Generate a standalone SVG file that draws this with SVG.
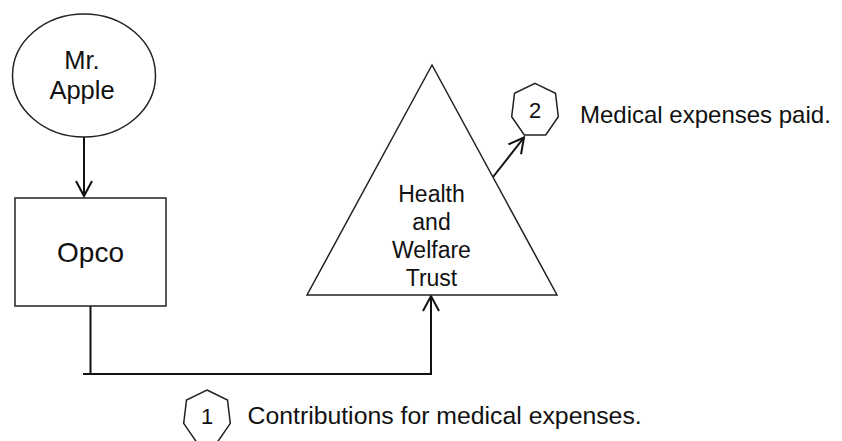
<svg xmlns="http://www.w3.org/2000/svg" width="842" height="441" viewBox="0 0 842 441">
<style>
.shape{fill:#fff;stroke:#222;stroke-width:1.5}
.conn{fill:none;stroke:#111;stroke-width:2}
.t{font-family:"Liberation Sans",Arial,sans-serif;fill:#111;text-anchor:middle}
.l{font-family:"Liberation Sans",Arial,sans-serif;fill:#111}
</style>
<defs>
<marker id="arr" viewBox="0 0 20 20" refX="16" refY="10" markerWidth="20" markerHeight="20" markerUnits="userSpaceOnUse" orient="auto">
<path d="M1,2 L16,10 L1,18" fill="none" stroke="#111" stroke-width="2"/>
</marker>
</defs>
<rect width="842" height="441" fill="#fff"/>
<g id="connectors">
<line class="conn" x1="84" y1="137" x2="84" y2="196" marker-end="url(#arr)"/>
<polyline class="conn" points="90.5,306 90.5,374"/>
<polyline class="conn" points="83,374 431,374 431,296" marker-end="url(#arr)"/>
<line class="conn" x1="493" y1="177" x2="524" y2="137.5" marker-end="url(#arr)"/>
</g>
<g id="mr-apple">
<ellipse class="shape" cx="84" cy="75.5" rx="71.5" ry="61.5"/>
<text class="t" x="82" y="69" font-size="25.5">Mr.</text>
<text class="t" x="82" y="99" font-size="25.5">Apple</text>
</g>
<g id="opco">
<rect class="shape" x="15" y="198" width="151" height="108"/>
<text class="t" x="90.5" y="262" font-size="28">Opco</text>
</g>
<g id="trust">
<polygon class="shape" points="432,65 307,295 557,295"/>
<text class="t" x="431.5" y="202" font-size="23">Health</text>
<text class="t" x="431.5" y="230" font-size="23">and</text>
<text class="t" x="431.5" y="258" font-size="23">Welfare</text>
<text class="t" x="431.5" y="286" font-size="23">Trust</text>
</g>
<g id="step2">
<polygon class="shape" points="535,83.3 555.5,93.3 558.3,116.7 545.7,135 524.3,135 511.7,116.7 514.5,93.3"/>
<text class="t" x="535" y="118" font-size="22">2</text>
<text class="l" x="580" y="122.5" font-size="24">Medical expenses paid.</text>
</g>
<g id="step1">
<polygon class="shape" points="207,390 227.5,400 230.3,423.4 217.7,441.7 196.3,441.7 183.7,423.4 186.5,400"/>
<text class="t" x="207" y="424" font-size="22">1</text>
<text class="l" x="247.5" y="423.5" font-size="24.8">Contributions for medical expenses.</text>
</g>
</svg>
